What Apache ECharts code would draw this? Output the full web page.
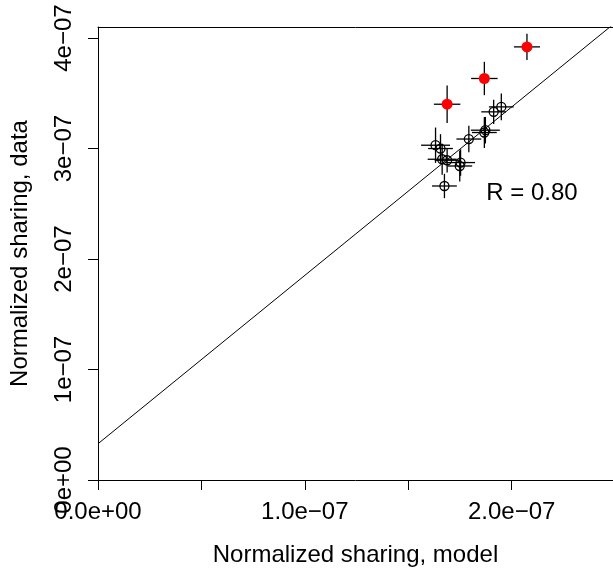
<!DOCTYPE html>
<html>
<head>
<meta charset="utf-8">
<script src="https://cdn.jsdelivr.net/npm/echarts@6/dist/echarts.min.js"></script>
<style>
html,body{margin:0;padding:0;background:#fff;}
#chart{width:613px;height:574px;}
</style>
</head>
<body>
<div id="chart"></div>
<script>
// ---- data ----
const modelBlack = [1.950e-7, 1.913e-7, 1.873e-7, 1.868e-7, 1.793e-7, 1.632e-7, 1.656e-7, 1.664e-7, 1.688e-7, 1.753e-7, 1.749e-7, 1.675e-7];
const dataBlack  = [3.377e-7, 3.332e-7, 3.166e-7, 3.145e-7, 3.086e-7, 3.030e-7, 3.000e-7, 2.903e-7, 2.894e-7, 2.873e-7, 2.842e-7, 2.661e-7];
const modelErrBlack = [0.06e-7, 0.06e-7, 0.07e-7, 0.06e-7, 0.06e-7, 0.07e-7, 0.06e-7, 0.07e-7, 0.06e-7, 0.07e-7, 0.06e-7, 0.06e-7];
const dataErrBlack  = [0.12e-7, 0.11e-7, 0.12e-7, 0.14e-7, 0.12e-7, 0.16e-7, 0.13e-7, 0.14e-7, 0.11e-7, 0.12e-7, 0.14e-7, 0.11e-7];

const modelRed = [2.074e-7, 1.868e-7, 1.688e-7];
const dataRed  = [3.920e-7, 3.634e-7, 3.401e-7];
const modelErrRed = [0.063e-7, 0.064e-7, 0.064e-7];
const dataErrRed  = [0.118e-7, 0.151e-7, 0.17e-7];

const fitIntercept = 0.328e-7;
const fitSlope = 1.524;

const xMin = 0, xMax = 2.49e-7;
const yMin = 0, yMax = 4.1e-7;

const xTicks = [0, 0.5e-7, 1.0e-7, 1.5e-7, 2.0e-7];
const xLabelValues = [0, 1.0e-7, 2.0e-7];
const xTickLabels = ['0.0e+00', '1.0e\u221207', '2.0e\u221207'];
const yTicks = [0, 1e-7, 2e-7, 3e-7, 4e-7];
const yTickLabels = ['0e+00', '1e\u221207', '2e\u221207', '3e\u221207', '4e\u221207'];

const xTitle = 'Normalized sharing, model';
const yTitle = 'Normalized sharing, data';
const annotationText = 'R = 0.80';
const annotationPos = [2.098e-7, 2.592e-7];

// ---- build ----
const FONT = '"Liberation Sans", Arial, Helvetica, sans-serif';
function lookup(vals, labels, v) {
  for (let i = 0; i < vals.length; i++) {
    if (Math.abs(vals[i] - v) < 1e-12) return labels[i];
  }
  return '';
}
const blackPts = modelBlack.map((x, i) => [x, dataBlack[i], modelErrBlack[i], dataErrBlack[i]]);
const redPts = modelRed.map((x, i) => [x, dataRed[i], modelErrRed[i], dataErrRed[i]]);
const fitLine = [[xMin, fitIntercept + fitSlope * xMin], [xMax, fitIntercept + fitSlope * xMax]];

function errRender(params, api) {
  const x = api.value(0), y = api.value(1), ex = api.value(2), ey = api.value(3);
  const l = api.coord([x - ex, y]), r = api.coord([x + ex, y]);
  const b = api.coord([x, y - ey]), t = api.coord([x, y + ey]);
  const st = {stroke: '#000', lineWidth: 1.3};
  return {type: 'group', children: [
    {type: 'line', shape: {x1: l[0], y1: l[1], x2: r[0], y2: r[1]}, style: st},
    {type: 'line', shape: {x1: b[0], y1: b[1], x2: t[0], y2: t[1]}, style: st}
  ]};
}

const chart = echarts.init(document.getElementById('chart'), null, {renderer: 'canvas'});
chart.setOption({
  backgroundColor: '#fff',
  animation: false,
  textStyle: {fontFamily: FONT},
  grid: {left: 96.7, right: 0, top: 27, bottom: 94, containLabel: false},
  xAxis: [{
    type: 'value', min: xMin, max: xMax, position: 'bottom',
    splitLine: {show: false},
    axisLine: {show: true, onZero: false, lineStyle: {color: '#000', width: 1}},
    axisTick: {show: true, inside: false, length: 10, customValues: xTicks, lineStyle: {color: '#000', width: 1}},
    axisLabel: {show: true, margin: 20, customValues: xLabelValues, color: '#000', fontSize: 24, fontFamily: FONT,
      formatter: v => lookup(xLabelValues, xTickLabels, v)},
    name: xTitle, nameLocation: 'middle', nameGap: 63,
    nameTextStyle: {color: '#000', fontSize: 24, fontFamily: FONT}
  }, {
    type: 'value', min: xMin, max: xMax, position: 'top',
    splitLine: {show: false},
    axisLine: {show: true, onZero: false, lineStyle: {color: '#000', width: 1}},
    axisTick: {show: false}, axisLabel: {show: false}
  }],
  yAxis: [{
    type: 'value', min: yMin, max: yMax, position: 'left',
    splitLine: {show: false},
    axisLine: {show: true, onZero: false, lineStyle: {color: '#000', width: 1}},
    axisTick: {show: true, inside: false, length: 10, customValues: yTicks, lineStyle: {color: '#000', width: 1}},
    axisLabel: {show: true, rotate: 90, margin: 22, customValues: yTicks, color: '#000', fontSize: 24, fontFamily: FONT,
      formatter: v => lookup(yTicks, yTickLabels, v)},
    name: yTitle, nameLocation: 'middle', nameGap: 66,
    nameTextStyle: {color: '#000', fontSize: 24, fontFamily: FONT}
  }],
  series: [
    {type: 'line', data: fitLine, symbol: 'none', clip: true, silent: true,
      lineStyle: {color: '#000', width: 1}, z: 1},
    {type: 'custom', data: blackPts, renderItem: errRender, encode: {x: 0, y: 1}, z: 2, silent: true},
    {type: 'custom', data: redPts, renderItem: errRender, encode: {x: 0, y: 1}, z: 2, silent: true},
    {type: 'scatter', data: blackPts.map(p => [p[0], p[1]]), symbol: 'circle', symbolSize: 9,
      itemStyle: {color: 'rgba(0,0,0,0)', borderColor: '#000', borderWidth: 1.3, opacity: 1}, z: 3, silent: true},
    {type: 'scatter', data: redPts.map(p => [p[0], p[1]]), symbol: 'circle', symbolSize: 11,
      itemStyle: {color: '#ff0000', borderWidth: 0, opacity: 1}, z: 4, silent: true},
    {type: 'scatter', data: [annotationPos], symbolSize: 0, silent: true, z: 5,
      itemStyle: {opacity: 1},
      label: {show: true, position: 'inside', formatter: annotationText, color: '#000', fontSize: 24, fontFamily: FONT}}
  ]
});
</script>
</body>
</html>
